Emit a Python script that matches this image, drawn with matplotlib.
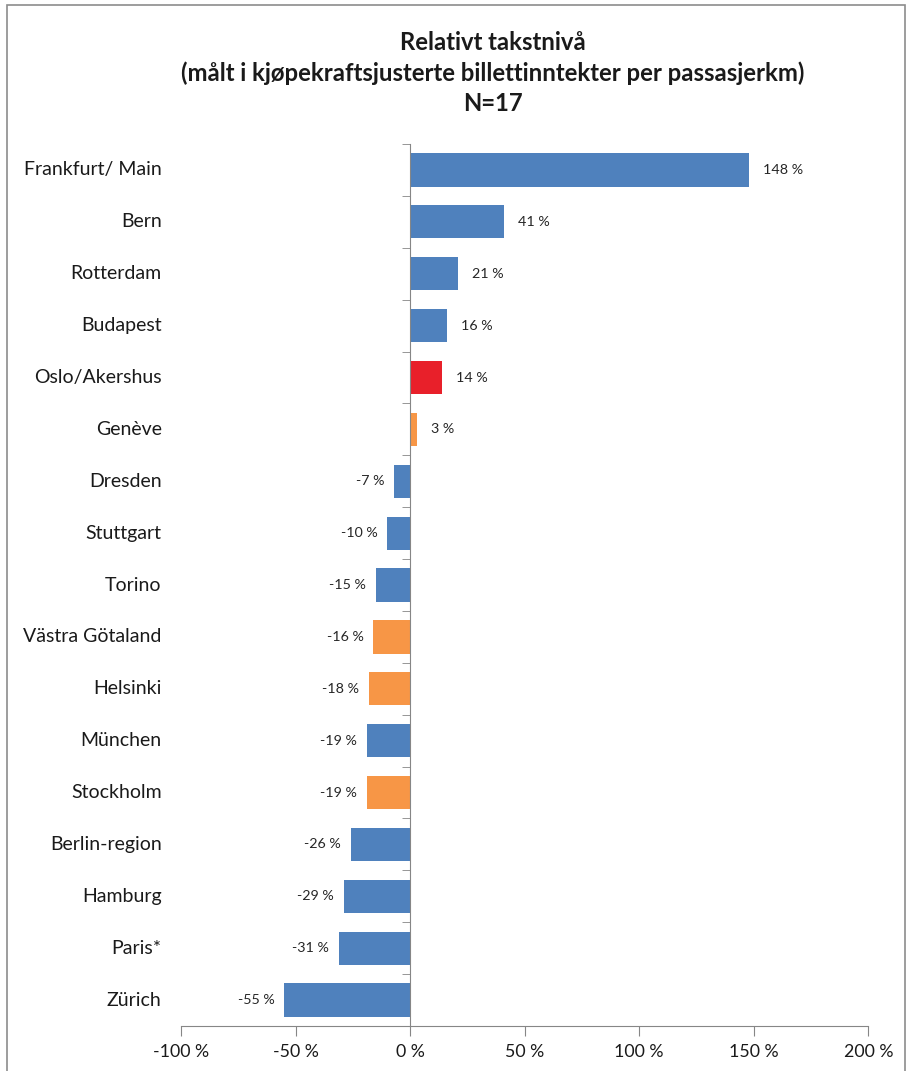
import numpy as np
import matplotlib.pyplot as plt
from matplotlib.patches import Rectangle
from matplotlib.ticker import FixedLocator

plt.rcParams['font.family'] = ['Lato', 'DejaVu Sans']

cities = ['Frankfurt/ Main', 'Bern', 'Rotterdam', 'Budapest', 'Oslo/Akershus', 'Genève',
          'Dresden', 'Stuttgart', 'Torino', 'Västra Götaland', 'Helsinki', 'München',
          'Stockholm', 'Berlin-region', 'Hamburg', 'Paris*', 'Zürich']
values = [148, 41, 21, 16, 14, 3, -7, -10, -15, -16, -18, -19, -19, -26, -29, -31, -55]
groups = ['other', 'other', 'other', 'other', 'oslo', 'nordic',
          'other', 'other', 'other', 'nordic', 'nordic', 'other',
          'nordic', 'other', 'other', 'other', 'other']
x_ticks = [-100, -50, 0, 50, 100, 150, 200]

colors = {'other': '#4F81BD', 'nordic': '#F79646', 'oslo': '#E8202A'}
axis_col = '#868686'

fig = plt.figure(figsize=(9.08, 10.71), dpi=100)
fig.patches.append(Rectangle((0.008, -0.01), 0.989, 1.005, transform=fig.transFigure,
                             fill=False, edgecolor='#8c8c8c', linewidth=1.2))
ax = fig.add_axes([0.1993, 0.042, 0.757, 0.8235])

y = np.arange(len(cities))
ax.barh(y, values, height=0.64, color=[colors[g] for g in groups], zorder=2)

for yi, v in zip(y, values):
    if v >= 0:
        ax.annotate(f'{v} %', (v, yi), xytext=(10, 0), textcoords='offset points',
                    ha='left', va='center', fontsize=10.3, color='#262626')
    else:
        ax.annotate(f'{v} %', (v, yi), xytext=(-7, 0), textcoords='offset points',
                    ha='right', va='center', fontsize=10.3, color='#262626')

for yi, name in zip(y, cities):
    ax.text(-0.028, yi, name, transform=ax.get_yaxis_transform(),
            ha='right', va='center', fontsize=14, color='#1a1a1a')

ax.set_xlim(-100, 200)
ax.set_ylim(len(cities) - 0.5, -0.5)
ax.set_xticks(x_ticks)
ax.set_xticklabels([f'{t} %' for t in x_ticks], fontsize=12.8, color='#1a1a1a')
ax.tick_params(axis='x', direction='out', length=7, color=axis_col, pad=6)

ax.spines['top'].set_visible(False)
ax.spines['right'].set_visible(False)
ax.spines['bottom'].set_color(axis_col)
ax.spines['left'].set_position(('data', 0))
ax.spines['left'].set_color(axis_col)
ax.set_yticks([])
ax.yaxis.set_minor_locator(FixedLocator(np.arange(-0.5, len(cities), 1.0)))
ax.tick_params(axis='y', which='minor', direction='out', length=6, color=axis_col)
ax.spines['left'].set_zorder(3)

fig.text(0.543, 0.971, 'Relativt takstnivå\n(målt i kjøpekraftsjusterte billettinntekter per passasjerkm)\nN=17',
         ha='center', va='top', fontsize=17.2, fontweight='bold', linespacing=1.36, color='#1a1a1a')

plt.savefig('out.png', dpi=100)
